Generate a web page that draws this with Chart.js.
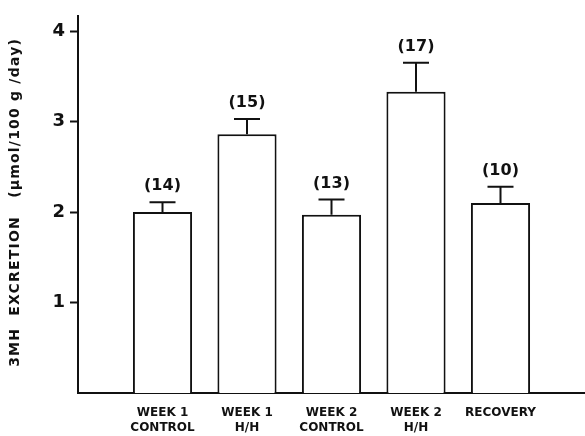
<!DOCTYPE html>
<html>
<head>
<meta charset="utf-8">
<script src="https://cdn.jsdelivr.net/npm/chart.js@4/dist/chart.umd.min.js"></script>
<style>
  html, body { margin: 0; padding: 0; background: #fff; }
  #wrap { width: 585px; height: 436px; position: relative; }
</style>
</head>
<body>
<div id="wrap"><canvas id="c"></canvas></div>
<script>
// Group labels (two lines each) and their positions on the x axis
const groups = [
  ['WEEK 1', 'CONTROL'],
  ['WEEK 1', 'H/H'],
  ['WEEK 2', 'CONTROL'],
  ['WEEK 2', 'H/H'],
  ['RECOVERY']
];
const groupPos = [1, 2, 3, 4, 5];

// Mean 3MH excretion (µmol/100 g/day)
const means = [2.00, 2.86, 1.97, 3.33, 2.10];
// Mean + SE (top of the error bar)
const upper = [2.11, 3.03, 2.14, 3.65, 2.28];
// Number of animals per group
const counts = [14, 15, 13, 17, 10];

const yTicks = [1, 2, 3, 4];
const yTitle = '3MH  EXCRETION   (µmol/100 g /day)';

const ink = '#111';

// Upward error bars with caps, and the (n) label above each one
const errorBars = {
  id: 'errorBars',
  afterDatasetsDraw(chart) {
    const ctx = chart.ctx;
    const yScale = chart.scales.y;
    const meta = chart.getDatasetMeta(0);
    ctx.save();
    ctx.strokeStyle = ink;
    ctx.lineWidth = 2;
    ctx.fillStyle = ink;
    ctx.font = 'bold 16px "DejaVu Sans"';
    ctx.textAlign = 'center';
    ctx.textBaseline = 'middle';
    meta.data.forEach((bar, i) => {
      const x = bar.x;
      const yTop = yScale.getPixelForValue(means[i]);
      const yCap = yScale.getPixelForValue(upper[i]);
      ctx.beginPath();
      ctx.moveTo(x, yTop);
      ctx.lineTo(x, yCap);
      ctx.moveTo(x - 13, yCap);
      ctx.lineTo(x + 13, yCap);
      ctx.stroke();
      ctx.fillText('(' + counts[i] + ')', x, yCap - 16);
    });
    ctx.restore();
  }
};

// Rotated, letter-spaced y-axis title centred on the plot height
const axisTitle = {
  id: 'axisTitle',
  afterDraw(chart) {
    const ctx = chart.ctx;
    const area = chart.chartArea;
    ctx.save();
    ctx.translate(15, (area.top + area.bottom) / 2 - 2);
    ctx.rotate(-Math.PI / 2);
    ctx.letterSpacing = '1.2px';
    ctx.font = 'bold 14px "DejaVu Sans"';
    ctx.fillStyle = ink;
    ctx.textAlign = 'center';
    ctx.textBaseline = 'middle';
    ctx.fillText(yTitle, 0, 0);
    ctx.restore();
  }
};

new Chart(document.getElementById('c'), {
  type: 'bar',
  data: {
    datasets: [{
      data: groupPos.map((x, i) => ({ x: x, y: means[i] })),
      backgroundColor: '#fff',
      borderColor: ink,
      borderWidth: { top: 2, left: 2, right: 2, bottom: 0 },
      borderSkipped: false,
      barPercentage: 0.7,
      categoryPercentage: 1
    }]
  },
  options: {
    responsive: true,
    maintainAspectRatio: false,
    animation: false,
    layout: { padding: { top: 13, right: 0, left: 0, bottom: 0 } },
    plugins: { legend: { display: false }, tooltip: { enabled: false } },
    scales: {
      x: {
        type: 'linear',
        offset: false,
        min: 0,
        max: 6,
        afterBuildTicks(axis) { axis.ticks = groupPos.map(v => ({ value: v })); },
        afterFit(axis) { axis.height = 43; },
        grid: { display: false, drawTicks: false, offset: false },
        border: { display: true, color: ink, width: 2 },
        ticks: {
          autoSkip: false,
          maxRotation: 0,
          padding: 13,
          color: ink,
          font: { family: 'DejaVu Sans', size: 12, weight: 'bold', lineHeight: 1.2 },
          callback(v) {
            const i = groupPos.indexOf(v);
            return i >= 0 ? groups[i] : '';
          }
        }
      },
      y: {
        min: 0,
        max: 4.17,
        afterBuildTicks(axis) { axis.ticks = yTicks.map(v => ({ value: v })); },
        afterFit(axis) { axis.width = 78; },
        grid: { display: true, drawOnChartArea: false, drawTicks: true, tickLength: 8, tickWidth: 2, color: ink },
        border: { display: true, color: ink, width: 2 },
        ticks: {
          padding: 5,
          color: ink,
          font: { family: 'DejaVu Sans', size: 18, weight: 'bold' }
        },
        title: { display: false }
      }
    }
  },
  plugins: [errorBars, axisTitle]
});
</script>
</body>
</html>
